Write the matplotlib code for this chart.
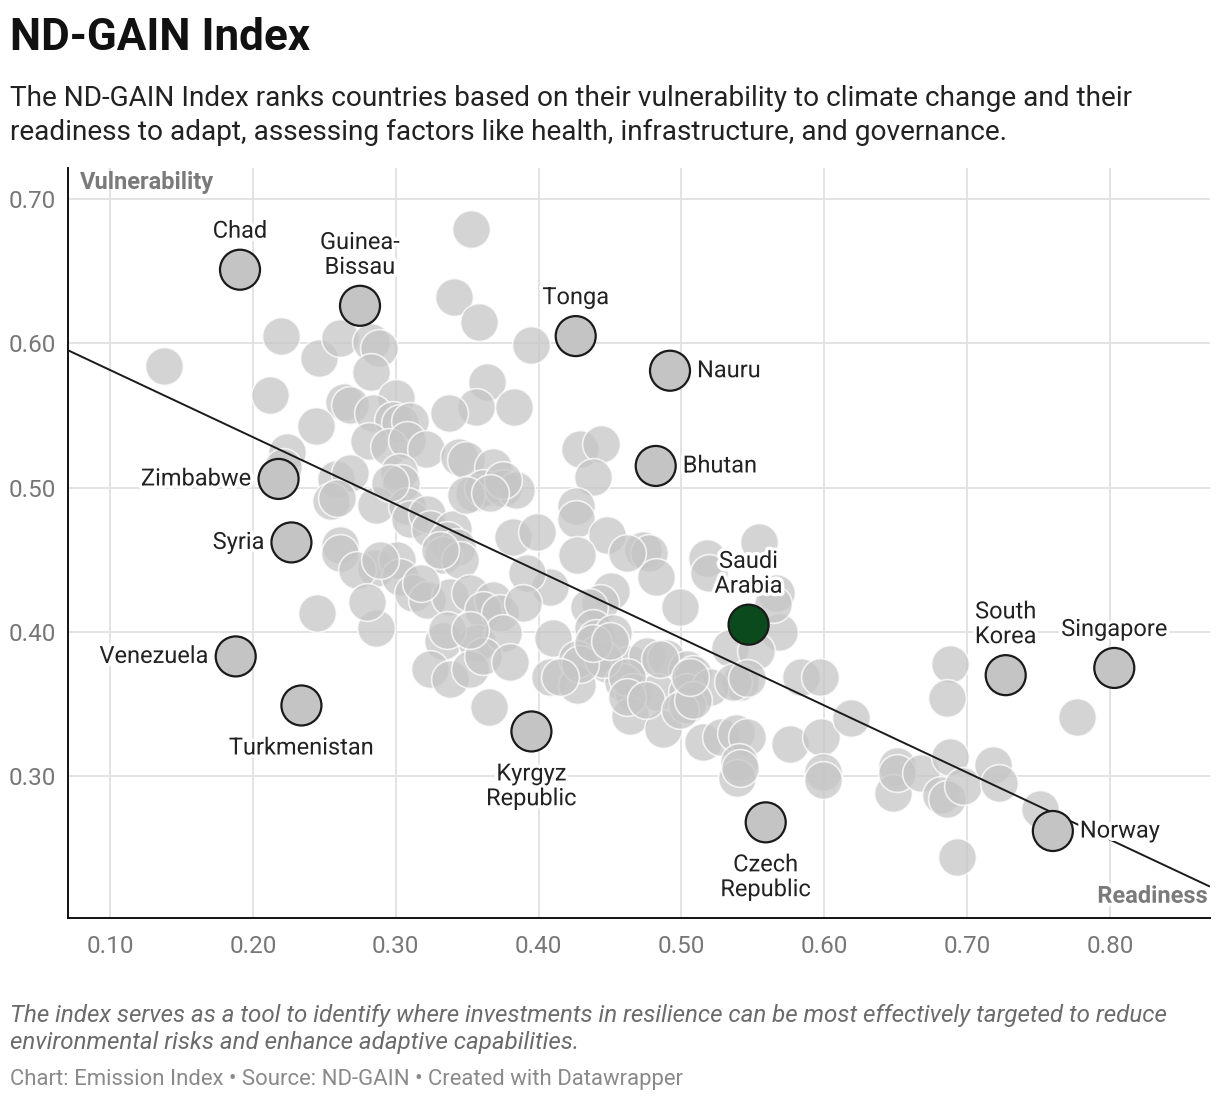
import matplotlib
matplotlib.use("Agg")
import matplotlib.pyplot as plt
import matplotlib.patheffects as pe
import numpy as np

plt.rcParams['font.family'] = ['Roboto', 'DejaVu Sans']

# all countries (readiness, vulnerability)
readiness = [
    0.138, 0.220, 0.246, 0.261, 0.283, 0.288, 0.283, 0.212, 0.264, 0.268,
    0.300, 0.353, 0.341, 0.358, 0.395, 0.364, 0.356, 0.337, 0.383, 0.244,
    0.284, 0.298, 0.303, 0.310, 0.281, 0.295, 0.308, 0.321, 0.224, 0.221,
    0.344, 0.349, 0.368, 0.258, 0.268, 0.302, 0.304, 0.255, 0.259, 0.286,
    0.308, 0.310, 0.322, 0.324, 0.340, 0.336, 0.343, 0.333, 0.345, 0.355,
    0.361, 0.375, 0.384, 0.349, 0.382, 0.399, 0.429, 0.444, 0.438, 0.375,
    0.426, 0.426, 0.448, 0.427, 0.473, 0.477, 0.482, 0.518, 0.519, 0.554,
    0.566, 0.499, 0.451, 0.443, 0.435, 0.408, 0.392, 0.568, 0.534, 0.552,
    0.541, 0.410, 0.438, 0.440, 0.452, 0.441, 0.448, 0.464, 0.476, 0.489,
    0.504, 0.508, 0.408, 0.427, 0.459, 0.466, 0.483, 0.504, 0.520, 0.464,
    0.487, 0.504, 0.515, 0.528, 0.538, 0.546, 0.540, 0.539, 0.576, 0.598,
    0.599, 0.599, 0.584, 0.597, 0.619, 0.651, 0.648, 0.651, 0.688, 0.686,
    0.777, 0.668, 0.688, 0.682, 0.686, 0.697, 0.718, 0.722, 0.751, 0.693,
    0.261, 0.261, 0.286, 0.273, 0.301, 0.303, 0.312, 0.322, 0.338, 0.352,
    0.368, 0.361, 0.373, 0.389, 0.462, 0.366, 0.296, 0.333, 0.357, 0.375,
    0.324, 0.338, 0.352, 0.361, 0.380, 0.427, 0.445, 0.462, 0.365, 0.245,
    0.286, 0.280, 0.318, 0.336, 0.352, 0.289, 0.331, 0.485, 0.462, 0.429,
    0.415, 0.438, 0.450, 0.536, 0.546, 0.475, 0.499, 0.508, 0.506, 0.564,
    0.541,
]
vulnerability = [
    0.584, 0.605, 0.590, 0.604, 0.601, 0.597, 0.580, 0.564, 0.559, 0.557,
    0.562, 0.679, 0.632, 0.615, 0.599, 0.573, 0.556, 0.552, 0.556, 0.543,
    0.552, 0.547, 0.545, 0.546, 0.532, 0.528, 0.533, 0.527, 0.525, 0.514,
    0.521, 0.519, 0.514, 0.506, 0.510, 0.511, 0.503, 0.491, 0.493, 0.488,
    0.487, 0.478, 0.482, 0.471, 0.471, 0.464, 0.459, 0.453, 0.450, 0.496,
    0.500, 0.500, 0.498, 0.495, 0.466, 0.469, 0.527, 0.530, 0.507, 0.505,
    0.487, 0.478, 0.467, 0.453, 0.457, 0.455, 0.438, 0.451, 0.441, 0.462,
    0.427, 0.417, 0.428, 0.420, 0.417, 0.431, 0.441, 0.400, 0.389, 0.387,
    0.365, 0.396, 0.403, 0.396, 0.399, 0.385, 0.378, 0.378, 0.383, 0.382,
    0.374, 0.371, 0.369, 0.363, 0.365, 0.358, 0.358, 0.358, 0.362, 0.342,
    0.333, 0.349, 0.324, 0.327, 0.330, 0.327, 0.310, 0.299, 0.322, 0.327,
    0.303, 0.297, 0.369, 0.369, 0.340, 0.307, 0.288, 0.302, 0.378, 0.354,
    0.341, 0.302, 0.313, 0.287, 0.284, 0.293, 0.308, 0.295, 0.277, 0.244,
    0.460, 0.455, 0.444, 0.443, 0.450, 0.438, 0.427, 0.422, 0.424, 0.427,
    0.422, 0.415, 0.413, 0.420, 0.455, 0.496, 0.503, 0.394, 0.392, 0.399,
    0.374, 0.367, 0.374, 0.383, 0.379, 0.381, 0.381, 0.369, 0.348, 0.413,
    0.403, 0.421, 0.434, 0.401, 0.401, 0.450, 0.457, 0.381, 0.355, 0.378,
    0.369, 0.392, 0.394, 0.365, 0.368, 0.353, 0.346, 0.353, 0.369, 0.419,
    0.306,
]

# labelled countries
hl_names = ["Chad", "Guinea-\nBissau", "Tonga", "Nauru", "Bhutan", "Zimbabwe",
            "Syria", "Saudi\nArabia", "Venezuela", "Turkmenistan",
            "Kyrgyz\nRepublic", "Czech\nRepublic", "South\nKorea",
            "Singapore", "Norway"]
hl_readiness = [0.191, 0.275, 0.426, 0.492, 0.482, 0.218, 0.227, 0.547,
                0.188, 0.234, 0.395, 0.559, 0.727, 0.803, 0.760]
hl_vulnerability = [0.651, 0.626, 0.605, 0.581, 0.515, 0.506, 0.462, 0.405,
                    0.383, 0.349, 0.331, 0.268, 0.370, 0.375, 0.262]
focus_country = "Saudi\nArabia"

# linear trend
trend_slope = -0.465
trend_intercept = 0.628

x_ticks = [0.10, 0.20, 0.30, 0.40, 0.50, 0.60, 0.70, 0.80]
y_ticks = [0.30, 0.40, 0.50, 0.60, 0.70]

# label placement
label_side = {"Chad": "top", "Guinea-\nBissau": "top", "Tonga": "top",
              "Nauru": "right", "Bhutan": "right", "Zimbabwe": "left",
              "Syria": "left", "Saudi\nArabia": "top", "Venezuela": "left",
              "Turkmenistan": "bottom", "Kyrgyz\nRepublic": "bottom",
              "Czech\nRepublic": "bottom", "South\nKorea": "top",
              "Singapore": "top", "Norway": "right"}
side_style = {"top": ((0, 27), "center", "bottom"),
              "bottom": ((0, -31), "center", "top"),
              "right": ((27, 0), "left", "center"),
              "left": ((-27, 0), "right", "center")}

W, H = 1220, 1102
fig = plt.figure(figsize=(W / 100, H / 100), dpi=100)
ax = fig.add_axes([68 / W, 1 - 918 / H, (1210 - 68) / W, (918 - 168) / H])

ax.set_xlim(0.0706, 0.870)
ax.set_ylim(0.2017, 0.7215)
ax.set_xticks(x_ticks)
ax.set_yticks(y_ticks)
ax.set_xticklabels([f"{t:.2f}" for t in x_ticks])
ax.set_yticklabels([f"{t:.2f}" for t in y_ticks])
ax.tick_params(length=0, labelsize=17.5, labelcolor="#777777")
ax.tick_params(axis="x", pad=12)
ax.tick_params(axis="y", pad=9)
ax.grid(True, color="#e3e3e3", linewidth=1.4, zorder=0)
ax.set_axisbelow(True)
for s in ["top", "right"]:
    ax.spines[s].set_visible(False)
for s in ["left", "bottom"]:
    ax.spines[s].set_color("#111111")
    ax.spines[s].set_linewidth(1.4)

ax.scatter(readiness, vulnerability, s=740, c="#c6c6c6", alpha=0.75,
           edgecolors="white", linewidths=1.2, zorder=3)

xs = np.array(ax.get_xlim())
ax.plot(xs, trend_intercept + trend_slope * xs, color="#1a1a1a", lw=1.4,
        zorder=4, solid_capstyle="butt")

hl_colors = ["#0a4a1d" if n == focus_country else "#c4c4c4" for n in hl_names]
ax.scatter(hl_readiness, hl_vulnerability, s=830, c=hl_colors,
           edgecolors="#1a1a1a", linewidths=1.6, zorder=5)

halo = [pe.withStroke(linewidth=5, foreground="white")]
for name, x, y in zip(hl_names, hl_readiness, hl_vulnerability):
    off, ha, va = side_style[label_side[name]]
    ax.annotate(name, (x, y), xytext=off, textcoords="offset pixels",
                ha=ha, va=va, fontsize=17, color="#222222", linespacing=1.1,
                path_effects=halo, zorder=6)

ax.text(0.0105, 0.981, "Vulnerability", transform=ax.transAxes, ha="left",
        va="center", fontsize=17, fontweight="bold", color="#7a7a7a", zorder=7)
ax.text(0.998, 0.029, "Readiness", transform=ax.transAxes, ha="right",
        va="center", fontsize=17, fontweight="bold", color="#7a7a7a",
        path_effects=halo, zorder=7)

fig.text(10 / W, 1 - 50 / H, "ND-GAIN Index", fontsize=31.7, fontweight="bold",
         color="#111111", va="baseline")
fig.text(10 / W, 1 - 106 / H,
         "The ND-GAIN Index ranks countries based on their vulnerability to climate change and their",
         fontsize=20.2, color="#222222", va="baseline")
fig.text(10 / W, 1 - 140 / H,
         "readiness to adapt, assessing factors like health, infrastructure, and governance.",
         fontsize=20.2, color="#222222", va="baseline")

fig.text(10 / W, 1 - 1022 / H,
         "The index serves as a tool to identify where investments in resilience can be most effectively targeted to reduce",
         fontsize=17.4, style="italic", color="#6b6b6b", va="baseline")
fig.text(10 / W, 1 - 1049 / H,
         "environmental risks and enhance adaptive capabilities.",
         fontsize=17.4, style="italic", color="#6b6b6b", va="baseline")
fig.text(10 / W, 1 - 1085 / H,
         "Chart: Emission Index \u2022 Source: ND-GAIN \u2022 Created with Datawrapper",
         fontsize=15.9, color="#8a8a8a", va="baseline")

fig.savefig("out.png", dpi=100, facecolor="white")
